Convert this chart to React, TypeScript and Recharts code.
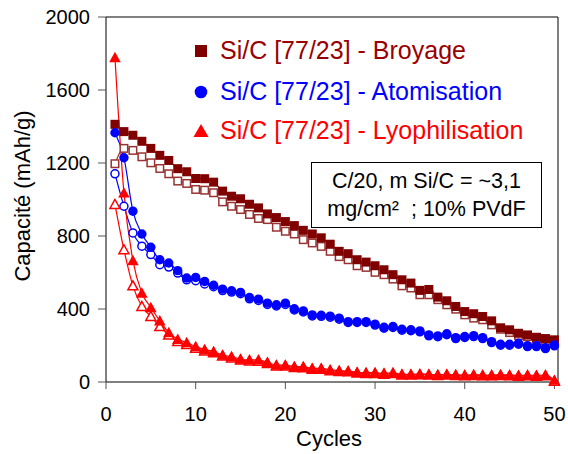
import { LineChart, Line, XAxis, YAxis, ReferenceLine } from 'recharts'

const cycles = [
  1, 2, 3, 4, 5, 6, 7, 8, 9, 10, 11, 12, 13, 14, 15, 16, 17, 18, 19, 20, 21, 22, 23, 24, 25,
  26, 27, 28, 29, 30, 31, 32, 33, 34, 35, 36, 37, 38, 39, 40, 41, 42, 43, 44, 45, 46, 47, 48, 49, 50,
]

// Broyage : décharge (plein) / charge (vide)
const broyageD = [
  1412, 1372, 1352, 1319, 1280, 1242, 1214, 1169, 1152, 1115, 1114, 1095, 1046, 1018, 1004, 974, 954,
  921, 901, 879, 857, 831, 811, 790, 755, 716, 703, 670, 657, 637, 615, 588, 560, 542, 502, 507, 465,
  445, 414, 386, 374, 359, 335, 297, 286, 267, 258, 245, 238, 231,
]
const broyageC = [
  1196, 1280, 1269, 1234, 1201, 1170, 1141, 1101, 1088, 1055, 1051, 1037, 987, 963, 945, 918, 896,
  890, 848, 826, 811, 780, 762, 743, 716, 687, 670, 637, 628, 601, 588, 564, 527, 515, 478, 478, 451,
  423, 399, 368, 350, 341, 313, 289, 271, 254, 249, 236, 227, 213,
]

// Atomisation
const atomD = [
  1366, 1229, 936, 811, 738, 670, 652, 610, 570, 573, 551, 530, 509, 500, 491, 463, 454, 432, 423,
  432, 401, 390, 368, 366, 361, 350, 331, 331, 331, 317, 300, 304, 289, 286, 280, 258, 253, 264, 243,
  249, 254, 243, 221, 207, 207, 212, 199, 199, 188, 203,
]
const atomC = [
  1141, 963, 817, 744, 698, 643, 630, 597, 560, 555, 537, 522, 501, 493, 484, 456, 447, 425, 417,
  425, 395, 384, 362, 360, 355, 344, 326, 326, 326, 312, 295, 299, 284, 281, 275, 253, 248, 259, 238,
  244, 249, 238, 216, 202, 202, 207, 194, 194, 183, 198,
]

// Lyophilisation
const lyoD = [
  1778, 1036, 665, 487, 408, 335, 271, 234, 216, 194, 178, 167, 148, 139, 126, 121, 121, 108, 93, 93,
  84, 84, 75, 75, 66, 62, 60, 53, 51, 51, 47, 51, 42, 42, 44, 42, 40, 42, 40, 38, 40, 38, 38, 40, 38,
  36, 38, 36, 38, 10,
]
const lyoC = [
  973, 725, 527, 414, 359, 304, 258, 222, 205, 185, 170, 160, 142, 132, 120, 115, 114, 102, 88, 88,
  79, 78, 70, 70, 62, 58, 56, 49, 47, 47, 43, 46, 38, 38, 40, 38, 36, 38, 36, 34, 36, 34, 34, 36, 34,
  32, 34, 32, 34, 4,
]

const xTicks = [0, 10, 20, 30, 40, 50]
const yTicks = [0, 400, 800, 1200, 1600, 2000]

const DARK = '#800000'
const DARK_OPEN = '#993333'
const BLUE = '#0000ff'
const RED = '#ff0000'
const FONT = '"Liberation Sans", Arial, sans-serif'

const data = cycles.map((c, i) => ({
  cycle: c,
  broyageD: broyageD[i],
  broyageC: broyageC[i],
  atomD: atomD[i],
  atomC: atomC[i],
  lyoD: lyoD[i],
  lyoC: lyoC[i],
}))

type DotProps = { cx?: number; cy?: number; index?: number }

const square = (color: string, open: boolean) => (p: DotProps) => {
  const s = open ? 7.5 : 9
  return (
    <rect
      key={`sq-${open}-${p.index}`}
      x={(p.cx ?? 0) - s / 2}
      y={(p.cy ?? 0) - s / 2}
      width={s}
      height={s}
      fill={open ? '#fff' : color}
      stroke={color}
      strokeWidth={open ? 1.5 : 0}
    />
  )
}

const circle = (color: string, open: boolean) => (p: DotProps) => (
  <circle
    key={`ci-${open}-${p.index}`}
    cx={p.cx}
    cy={p.cy}
    r={open ? 4 : 4.7}
    fill={open ? '#fff' : color}
    stroke={color}
    strokeWidth={open ? 1.5 : 0}
  />
)

const triangle = (color: string, open: boolean) => (p: DotProps) => {
  const x = p.cx ?? 0
  const y = p.cy ?? 0
  const w = open ? 5 : 5.8
  return (
    <polygon
      key={`tr-${open}-${p.index}`}
      points={`${x},${y - w} ${x - w},${y + w * 0.8} ${x + w},${y + w * 0.8}`}
      fill={open ? '#fff' : color}
      stroke={color}
      strokeWidth={open ? 1.5 : 0}
    />
  )
}

const legendRows = [
  { label: 'Si/C [77/23] - Broyage', color: '#990000', mark: 'square', y: 51 },
  { label: 'Si/C [77/23] - Atomisation', color: BLUE, mark: 'circle', y: 92 },
  { label: 'Si/C [77/23] - Lyophilisation', color: RED, mark: 'triangle', y: 131 },
]

function LegendMark({ mark }: { mark: string }) {
  return (
    <svg width={16} height={16} style={{ position: 'absolute', left: 193, top: -8 }}>
      {mark === 'square' && <rect x={2} y={2} width={12} height={12} fill={DARK} />}
      {mark === 'circle' && <circle cx={8} cy={8} r={6.3} fill={BLUE} />}
      {mark === 'triangle' && <polygon points="8,1 0.5,14 15.5,14" fill={RED} />}
    </svg>
  )
}

export default function App() {
  return (
    <div
      style={{
        position: 'absolute',
        left: 0,
        top: 0,
        width: 568,
        height: 454,
        background: '#fff',
        fontFamily: FONT,
      }}
    >
      <LineChart width={568} height={454} data={data} margin={{ top: 17, right: 10, left: 0, bottom: 0 }}>
        <XAxis
          dataKey="cycle"
          type="number"
          domain={[0, 50.4]}
          ticks={xTicks}
          height={72}
          axisLine={{ stroke: '#000' }}
          tickLine={{ stroke: '#555' }}
          tickSize={7}
          tickMargin={18}
          tick={{ fill: '#000', fontSize: 20, fontFamily: FONT }}
        />
        <YAxis
          type="number"
          domain={[0, 2000]}
          ticks={yTicks}
          width={106}
          axisLine={{ stroke: '#000' }}
          tickLine={{ stroke: '#555' }}
          tickSize={8}
          tickMargin={8}
          tick={{ fill: '#000', fontSize: 20, fontFamily: FONT }}
        />
        <ReferenceLine y={2000} stroke="#000" />
        <ReferenceLine x={50.4} stroke="#000" />

        <Line dataKey="broyageC" type="monotone" stroke={DARK_OPEN} strokeWidth={1.2} dot={square(DARK_OPEN, true)} activeDot={false} isAnimationActive={false} />
        <Line dataKey="broyageD" type="monotone" stroke={DARK} strokeWidth={1.2} dot={square(DARK, false)} activeDot={false} isAnimationActive={false} />
        <Line dataKey="atomC" type="monotone" stroke={BLUE} strokeWidth={1.2} dot={circle(BLUE, true)} activeDot={false} isAnimationActive={false} />
        <Line dataKey="atomD" type="monotone" stroke={BLUE} strokeWidth={1.2} dot={circle(BLUE, false)} activeDot={false} isAnimationActive={false} />
        <Line dataKey="lyoC" type="monotone" stroke={RED} strokeWidth={1.2} dot={triangle(RED, true)} activeDot={false} isAnimationActive={false} />
        <Line dataKey="lyoD" type="monotone" stroke={RED} strokeWidth={1.2} dot={triangle(RED, false)} activeDot={false} isAnimationActive={false} />
      </LineChart>

      {legendRows.map((r) => (
        <div key={r.label} style={{ position: 'absolute', left: 0, top: r.y, width: 568, height: 0 }}>
          <LegendMark mark={r.mark} />
          <div
            style={{
              position: 'absolute',
              left: 220,
              top: -13,
              fontSize: 25,
              lineHeight: '25px',
              color: r.color,
              whiteSpace: 'nowrap',
            }}
          >
            {r.label}
          </div>
        </div>
      ))}

      <div
        style={{
          position: 'absolute',
          left: 311,
          top: 162,
          width: 231,
          height: 66,
          boxSizing: 'border-box',
          border: '1px solid #000',
          background: '#fff',
          paddingTop: 4,
          textAlign: 'center',
          fontSize: 21.5,
          lineHeight: '28px',
          color: '#000',
          whiteSpace: 'pre',
        }}
      >
        <div>C/20, m Si/C = ~3,1</div>
        <div>mg/cm²  ; 10% PVdF</div>
      </div>

      <div
        style={{
          position: 'absolute',
          left: 23,
          top: 196,
          transform: 'translate(-50%, -50%) rotate(-90deg)',
          fontSize: 22,
          lineHeight: '22px',
          whiteSpace: 'nowrap',
          color: '#000',
        }}
      >
        Capacité (mAh/g)
      </div>
      <div
        style={{
          position: 'absolute',
          left: 329,
          top: 428,
          transform: 'translateX(-50%)',
          fontSize: 22,
          lineHeight: '22px',
          whiteSpace: 'nowrap',
          color: '#000',
        }}
      >
        Cycles
      </div>
    </div>
  )
}
